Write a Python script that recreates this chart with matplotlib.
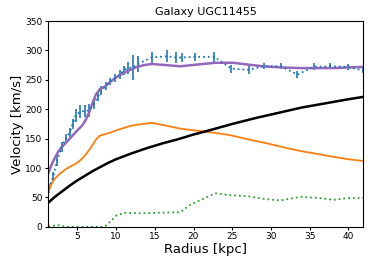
import numpy as np
import matplotlib
matplotlib.use("Agg")
import matplotlib.pyplot as plt

# observed rotation curve
r_obs = [1.3, 1.9, 2.4, 3.0, 3.5, 4.0, 4.4, 4.8, 5.4, 6.0, 6.5, 7.1, 7.7, 8.1, 8.7,
         9.2, 9.9, 10.5, 11.0, 11.5, 12.2, 12.8, 14.6, 16.6, 17.7, 18.5, 20.2, 22.7,
         24.9, 27.1, 29.1, 31.3, 33.4, 35.5, 37.6, 39.9, 41.9]
v_obs = [65, 85, 113, 136, 150, 160, 175, 190, 196, 197, 198, 209, 222, 232, 240,
         247, 253, 259, 266, 270, 271, 277, 288, 290, 288, 288, 289, 289,
         269, 267, 273, 273, 259, 272, 273, 272, 266]
v_err = [8, 8, 10, 8, 8, 8, 9, 11, 11, 11, 11, 9, 8, 7, 7,
         6, 7, 7, 8, 10, 21, 14, 10, 10, 9, 8, 7, 8,
         7, 7, 5, 5, 6, 6, 5, 5, 5]

# total fit
r_tot = [1.25, 1.6, 2.0, 2.5, 3.0, 3.6, 4.3, 5.0, 5.6, 6.1, 6.6, 7.0, 7.4, 7.9,
         8.5, 9.2, 9.9, 10.5, 11.2, 12.0, 12.7, 13.6, 14.6, 16.5, 18.3, 20.5,
         22.8, 25.1, 27.0, 29.0, 31.5, 33.8, 38.1, 41.9]
v_tot = [91, 103, 115, 127, 136, 144, 154, 164, 172, 182, 197, 212, 225, 234,
         238, 246, 253, 258, 263, 268, 272, 275, 277, 275, 273, 276,
         279, 279, 276, 273, 271, 270, 270, 272]

# stellar disk
r_disk = [1.25, 1.6, 1.9, 2.4, 2.8, 3.6, 4.3, 5.0, 5.7, 6.2, 6.7, 7.1, 7.5, 7.9,
          8.4, 9.2, 10.2, 11.2, 12.0, 12.9, 14.6, 16.5, 18.3, 20.8, 22.7, 24.7,
          27.0, 29.5, 31.7, 33.8, 36.0, 38.1, 40.0, 41.9]
v_disk = [59, 71, 79, 86, 91, 99, 104, 109, 117, 125, 134, 142, 150, 155,
          157, 160, 165, 169, 172, 174, 177, 172, 167, 163, 160, 156,
          149, 142, 135, 129, 124, 119, 115, 112]

# dark matter halo
r_halo = [1.25, 2, 3, 4, 5, 6, 7, 8, 9, 10, 12, 14, 16, 18, 20, 22, 25, 28,
          31, 34, 37, 40, 41.9]
v_halo = [41, 50, 60, 70, 79, 87, 95, 102, 109, 115, 125, 134, 142, 149, 157,
          164, 175, 185, 194, 203, 210, 217, 221]

# gas
r_gas = [1.25, 2.5, 3.6, 8.4, 8.8, 10.1, 11.2, 13.1, 15.2, 18.3, 19.5, 20.8, 22.8,
         24.7, 27.1, 29.5, 31.2, 33.8, 36.3, 38.1, 39.8, 41.9]
v_gas = [1, 3, 0, 0, 3, 20, 24, 23, 24, 25, 37, 45, 57,
         54, 52, 47, 45, 51, 49, 46, 49, 49]

fig = plt.figure(figsize=(3.74, 2.66), dpi=100)
ax = fig.add_axes([0.128, 0.147, 0.843, 0.774])

ax.errorbar(r_obs, v_obs, yerr=v_err, fmt=':', color='#1f77b4', lw=1.3, elinewidth=1.2)
ax.plot(r_tot, v_tot, color='#9467bd', lw=1.8)
ax.plot(r_disk, v_disk, color='#ff7f0e', lw=1.3)
ax.plot(r_halo, v_halo, color='black', lw=1.8)
ax.plot(r_gas, v_gas, ':', color='#2ca02c', lw=1.3)

ax.set_xlim(1.2, 41.9)
ax.set_ylim(0, 350)
ax.set_xticks(range(5, 41, 5))
ax.set_yticks(range(0, 351, 50))
ax.tick_params(labelsize=6.5, length=2.5, pad=1.5)
ax.set_title('Galaxy UGC11455', fontsize=8, pad=4)
ax.set_xlabel('Radius [kpc]', fontsize=9.5, labelpad=1)
ax.set_ylabel('Velocity [km/s]', fontsize=9.5, labelpad=1)

plt.savefig('out.png', dpi=100)
